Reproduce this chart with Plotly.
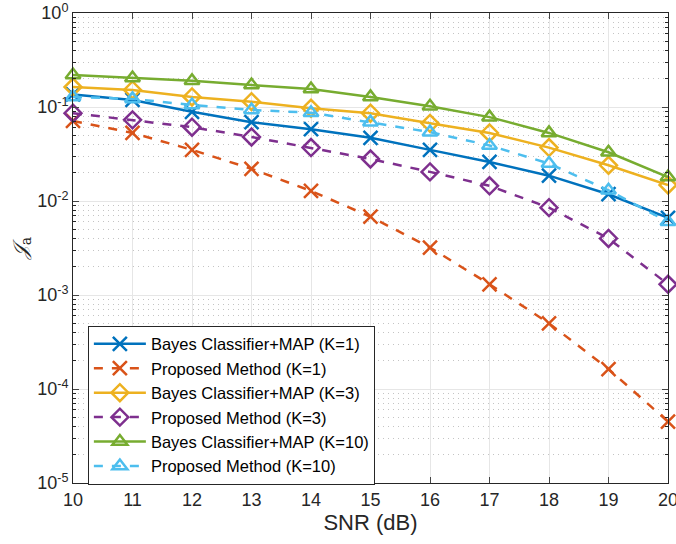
import plotly.graph_objects as go

snr = [10, 11, 12, 13, 14, 15, 16, 17, 18, 19, 20]

bayes_k1 = [0.136, 0.119, 0.089, 0.069, 0.058, 0.047, 0.035, 0.026, 0.0186, 0.0118, 0.0066]
prop_k1 = [0.071, 0.053, 0.035, 0.022, 0.0128, 0.0068, 0.0032, 0.0013, 0.0005, 0.000163, 0.000045]
bayes_k3 = [0.163, 0.152, 0.128, 0.114, 0.097, 0.086, 0.067, 0.053, 0.037, 0.024, 0.0148]
prop_k3 = [0.086, 0.073, 0.061, 0.048, 0.037, 0.028, 0.0204, 0.0145, 0.0085, 0.0040, 0.0013]
bayes_k10 = [0.219, 0.203, 0.19, 0.171, 0.155, 0.128, 0.102, 0.078, 0.053, 0.033, 0.018]
prop_k10 = [0.128, 0.122, 0.105, 0.093, 0.087, 0.069, 0.054, 0.039, 0.025, 0.013, 0.006]

series_names = [
    "Bayes Classifier+MAP (K=1)",
    "Proposed Method (K=1)",
    "Bayes Classifier+MAP (K=3)",
    "Proposed Method (K=3)",
    "Bayes Classifier+MAP (K=10)",
    "Proposed Method (K=10)",
]

y_tickvals = [1e-5, 1e-4, 1e-3, 1e-2, 1e-1, 1]
y_ticktext = ["10<sup>-5</sup>", "10<sup>-4</sup>", "10<sup>-3</sup>",
              "10<sup>-2</sup>", "10<sup>-1</sup>", "10<sup>0</sup>"]

styles = [
    ("#0072BD", "solid", "x-thin-open"),
    ("#D95319", "dash", "x-thin-open"),
    ("#EDB120", "solid", "diamond-open"),
    ("#7E2F8E", "dash", "diamond-open"),
    ("#77AC30", "solid", "triangle-up-open"),
    ("#4DBEEE", "dash", "triangle-up-open"),
]
data = [bayes_k1, prop_k1, bayes_k3, prop_k3, bayes_k10, prop_k10]

fig = go.Figure()
for name, ys, (c, d, m) in zip(series_names, data, styles):
    size = 14 if m.startswith("x") else 13
    fig.add_trace(go.Scatter(
        x=snr, y=ys, name=name, mode="lines+markers",
        line=dict(color=c, width=2.5, dash=d),
        marker=dict(symbol=m, size=size, color=c, line=dict(color=c, width=2.5)),
        cliponaxis=False,
    ))

fam = "Liberation Sans, Arial, sans-serif"
axis_font = dict(family=fam, size=18, color="#262626")

fig.update_layout(
    width=676, height=544,
    margin=dict(l=73, r=8, t=13, b=61, autoexpand=False),
    paper_bgcolor="white", plot_bgcolor="white",
    font=axis_font,
    showlegend=True,
    legend=dict(
        x=0.025, y=0.335, xanchor="left", yanchor="top",
        bgcolor="white", bordercolor="#262626", borderwidth=1,
        font=dict(family=fam, size=16.5, color="#000000"),
        tracegroupgap=0, itemwidth=52,
    ),
    xaxis=dict(
        range=[10, 20], tickvals=snr, ticks="inside", ticklen=6,
        showline=True, linecolor="#262626", linewidth=1, mirror="allticks",
        showgrid=True, gridcolor="#e6e6e6", gridwidth=1, zeroline=False,
        title=dict(text="SNR (dB)", font=dict(family=fam, size=22, color="#262626"), standoff=4),
        tickfont=axis_font, ticklabeloverflow="allow", automargin=False,
    ),
    yaxis=dict(
        type="log", range=[-5, 0], tickvals=y_tickvals, ticktext=y_ticktext,
        ticks="inside", ticklen=6,
        showline=True, linecolor="#262626", linewidth=1, mirror="allticks",
        showgrid=True, gridcolor="#e6e6e6", gridwidth=1, zeroline=False,
        minor=dict(dtick="D1", ticks="inside", ticklen=3, showgrid=True,
                   gridcolor="#c4c4c4", griddash="1px,4px", gridwidth=1, tickcolor="#262626"),
        title=dict(text="<i>𝒥</i><sub>a</sub>", font=dict(family="DejaVu Serif, serif", size=20, color="#262626"), standoff=4),
        tickfont=axis_font, ticklabeloverflow="allow", automargin=False,
    ),
)

fig.write_html("out.html", config={"displayModeBar": False},
               post_script="document.body.style.margin='0';")
